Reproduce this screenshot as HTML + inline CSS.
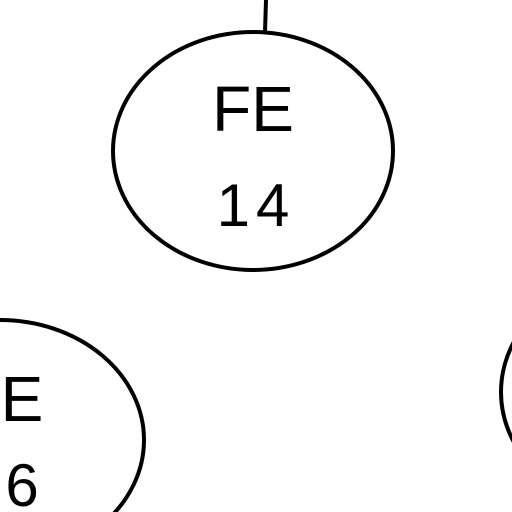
<!DOCTYPE html>
<html><head><meta charset="utf-8"><style>
html,body{margin:0;padding:0;background:#fff;width:512px;height:512px;overflow:hidden}
svg{display:block;overflow:hidden}
text{font-family:"Liberation Sans",sans-serif;fill:#000}
</style></head><body>
<svg width="512" height="512" viewBox="0 0 512 512">
  <line x1="266" y1="0" x2="265" y2="32" stroke="#000" stroke-width="4"/>
  <g>
    <ellipse cx="253" cy="151" rx="140" ry="119" fill="none" stroke="#000" stroke-width="4"/>
    <text x="253" y="131" font-size="64" text-anchor="middle">FE</text>
    <text x="256" y="226" font-size="60" text-anchor="middle" letter-spacing="6">14</text>
  </g>
  <g>
    <ellipse cx="0" cy="440" rx="144" ry="120" fill="none" stroke="#000" stroke-width="4"/>
    <text x="22" y="421" font-size="64" text-anchor="middle">E</text>
    <text x="22" y="506" font-size="60" text-anchor="middle">6</text>
  </g>
  <ellipse cx="642" cy="392" rx="141" ry="120" fill="none" stroke="#000" stroke-width="4"/>
</svg>
</body></html>
